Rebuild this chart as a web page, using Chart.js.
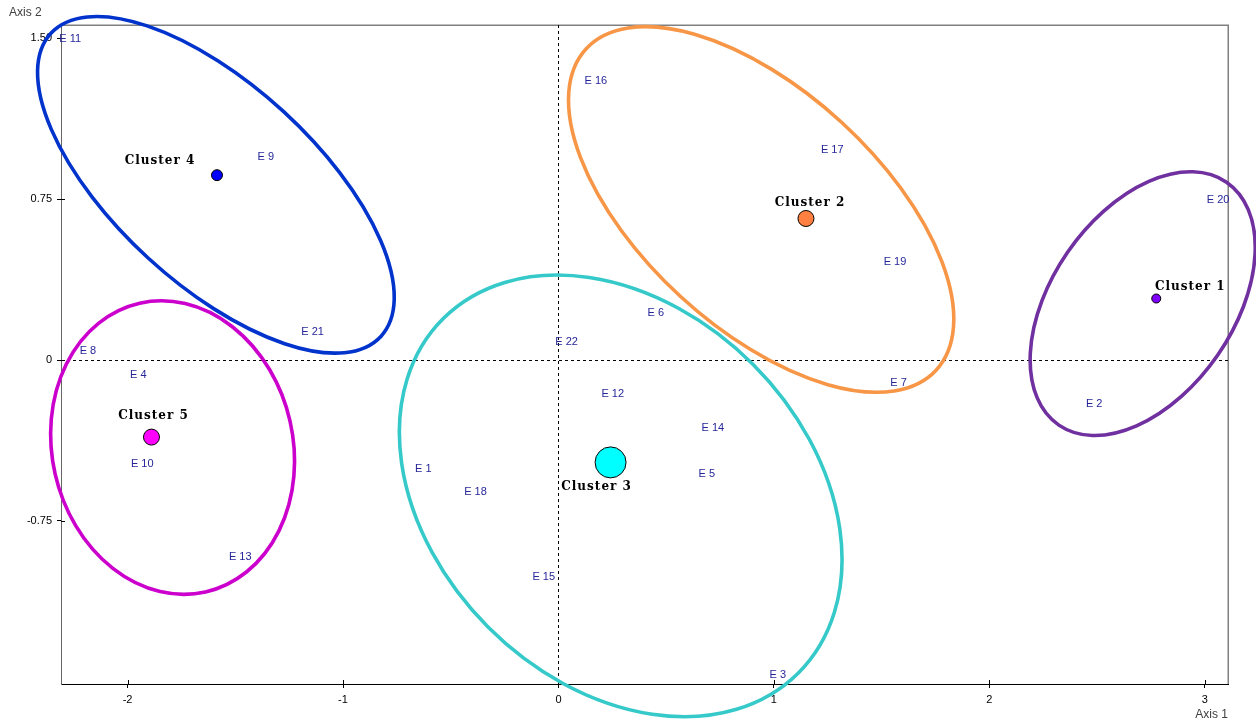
<!DOCTYPE html>
<html>
<head>
<meta charset="utf-8">
<title>Clusters – Axis 1 / Axis 2</title>
<script src="https://cdn.jsdelivr.net/npm/chart.js@4/dist/chart.umd.min.js"></script>
<style>
  html, body { margin: 0; padding: 0; background: #fff; }
  #wrap { width: 1256px; height: 721px; position: relative; }
</style>
</head>
<body>
<div id="wrap"><canvas id="map"></canvas></div>
<script>
// Observations (coordinates on Axis 1 / Axis 2)
const obsNames = ['E 1','E 2','E 3','E 4','E 5','E 6','E 7','E 8','E 9','E 10','E 11',
                  'E 12','E 13','E 14','E 15','E 16','E 17','E 18','E 19','E 20','E 21','E 22'];
const obsX = [-0.627, 2.487, 1.018, -1.950, 0.689, 0.452, 1.579, -2.184, -1.358, -1.932, -2.266,
              0.252, -1.477, 0.717, -0.068, 0.174, 1.271, -0.385, 1.562, 3.062, -1.141, 0.038];
const obsY = [-0.507, -0.205, -1.466, -0.070, -0.530, 0.220, -0.106, 0.043, 0.946, -0.484, 1.497,
              -0.157, -0.917, -0.318, -1.011, 1.303, 0.980, -0.613, 0.457, 0.745, 0.132, 0.085];

// Cluster centroids
const clusterNames = ['Cluster 1','Cluster 2','Cluster 3','Cluster 4','Cluster 5'];
const clusterX = [2.775, 1.149, 0.242, -1.585, -1.889];
const clusterY = [0.287, 0.660, -0.477, 0.862, -0.359];

// Cluster ellipses: centre, semi-axes and orientation (degrees)
const ellipseCx = [2.712, 0.941, 0.289, -1.590, -1.791];
const ellipseCy = [0.263, 0.702, -0.633, 0.817, -0.408];
const ellipseA = [0.687, 1.105, 1.167, 1.042, 0.690];
const ellipseB = [0.423, 0.552, 0.868, 0.464, 0.559];
const ellipseAngle = [55.5, -42.7, -45.2, -42.7, -77.2];

// Axis ticks
const xTickValues = [-2, -1, 0, 1, 2, 3];
const xTickLabels = ['-2', '-1', '0', '1', '2', '3'];
const yTickValues = [-0.75, 0, 0.75, 1.5];
const yTickLabels = ['-0.75', '0', '0.75', '1.50'];

// Styling
const clusterFill = ['#8000ff', '#ff8040', '#00ffff', '#0000ff', '#ff00ff'];
const clusterRadius = [4.5, 8, 15.5, 5.5, 8];
const ellipseColor = ['#7030a0', '#f79646', '#36c9c9', '#0033cc', '#cc00cc'];
const clusterLabelDx = [33, 3, -15, -58, 1];
const clusterLabelDy = [-12, -16, 24, -14, -21];
const SANS = '"Liberation Sans", Arial, sans-serif';

const mapPlugin = {
  id: 'clusterMap',
  beforeDatasetsDraw(chart) {
    const { ctx, chartArea: a, scales: { x, y } } = chart;
    ctx.save();
    // frame top / right
    ctx.strokeStyle = '#808080';
    ctx.lineWidth = 1.5;
    ctx.beginPath();
    ctx.moveTo(a.left, a.top + 0.25);
    ctx.lineTo(a.right + 0.25, a.top + 0.25);
    ctx.lineTo(a.right + 0.25, a.bottom);
    ctx.stroke();

    // dashed zero lines
    ctx.strokeStyle = '#000';
    ctx.lineWidth = 1;
    ctx.setLineDash([3, 3]);
    const x0 = Math.round(x.getPixelForValue(0)) + 0.5;
    const y0 = Math.round(y.getPixelForValue(0)) + 0.5;
    ctx.beginPath();
    ctx.moveTo(x0, a.top); ctx.lineTo(x0, a.bottom);
    ctx.moveTo(a.left, y0); ctx.lineTo(a.right, y0);
    ctx.stroke();
    ctx.setLineDash([]);

    // inner half of the cross ticks
    ctx.beginPath();
    xTickValues.forEach(v => {
      const px = Math.round(x.getPixelForValue(v)) + 0.5;
      ctx.moveTo(px, a.bottom); ctx.lineTo(px, a.bottom - 4);
    });
    yTickValues.forEach(v => {
      const py = Math.round(y.getPixelForValue(v)) + 0.5;
      ctx.moveTo(a.left, py); ctx.lineTo(a.left + 4, py);
    });
    ctx.stroke();

    // observation labels
    ctx.fillStyle = '#262699';
    ctx.font = '11px ' + SANS;
    ctx.textAlign = 'center';
    ctx.textBaseline = 'middle';
    obsNames.forEach((n, i) => {
      ctx.fillText(n, x.getPixelForValue(obsX[i]), y.getPixelForValue(obsY[i]));
    });
    ctx.restore();
  },
  afterDatasetsDraw(chart) {
    const { ctx, scales: { x, y } } = chart;
    const sx = x.getPixelForValue(1) - x.getPixelForValue(0);
    const sy = y.getPixelForValue(0) - y.getPixelForValue(1);
    ctx.save();
    // ellipses around each cluster
    ellipseCx.forEach((cx, i) => {
      ctx.save();
      ctx.translate(x.getPixelForValue(cx), y.getPixelForValue(ellipseCy[i]));
      ctx.scale(sx, -sy);
      ctx.rotate(ellipseAngle[i] * Math.PI / 180);
      ctx.beginPath();
      ctx.ellipse(0, 0, ellipseA[i], ellipseB[i], 0, 0, Math.PI * 2);
      ctx.restore();
      ctx.strokeStyle = ellipseColor[i];
      ctx.lineWidth = 3.6;
      ctx.stroke();
    });
    // cluster names
    ctx.fillStyle = '#000';
    ctx.font = 'bold 12px "DejaVu Serif", serif';
    if ('letterSpacing' in ctx) ctx.letterSpacing = '1px';
    ctx.textAlign = 'center';
    ctx.textBaseline = 'middle';
    clusterNames.forEach((n, i) => {
      ctx.fillText(n, x.getPixelForValue(clusterX[i]) + clusterLabelDx[i] + 1,
                      y.getPixelForValue(clusterY[i]) + clusterLabelDy[i]);
    });
    ctx.restore();
  },
  afterDraw(chart) {
    const { ctx, chartArea: a } = chart;
    ctx.save();
    ctx.fillStyle = '#404040';
    ctx.font = '12px ' + SANS;
    ctx.textBaseline = 'middle';
    ctx.textAlign = 'left';
    ctx.fillText('Axis 2', 9, 13);
    ctx.textAlign = 'right';
    ctx.fillText('Axis 1', a.right, 715);
    ctx.restore();
  }
};

new Chart(document.getElementById('map'), {
  type: 'scatter',
  data: {
    datasets: [{
      label: 'Clusters',
      data: clusterX.map((v, i) => ({ x: v, y: clusterY[i] })),
      pointRadius: clusterRadius,
      pointHoverRadius: clusterRadius,
      backgroundColor: clusterFill,
      borderColor: '#000',
      borderWidth: 1
    }]
  },
  options: {
    responsive: true,
    maintainAspectRatio: false,
    animation: false,
    devicePixelRatio: 1,
    layout: { padding: { left: 0, top: 25, right: 28, bottom: 0 } },
    plugins: { legend: { display: false }, tooltip: { enabled: false } },
    scales: {
      x: {
        type: 'linear',
        min: -2.309,
        max: 3.108,
        afterBuildTicks: s => { s.ticks = xTickValues.map(v => ({ value: v })); },
        afterFit: s => { s.height = 37; },
        ticks: {
          color: '#000',
          font: { family: SANS, size: 11 },
          padding: 5,
          maxRotation: 0,
          callback: (v) => xTickLabels[xTickValues.indexOf(v)]
        },
        grid: { display: true, drawOnChartArea: false, drawTicks: true, tickLength: 4, color: '#000' },
        border: { display: true, color: '#000', width: 1 }
      },
      y: {
        type: 'linear',
        min: -1.510,
        max: 1.562,
        afterBuildTicks: s => { s.ticks = yTickValues.map(v => ({ value: v })); },
        afterFit: s => { s.width = 61; },
        ticks: {
          color: '#000',
          font: { family: SANS, size: 11 },
          padding: 5,
          callback: (v) => yTickLabels[yTickValues.indexOf(v)]
        },
        grid: { display: true, drawOnChartArea: false, drawTicks: true, tickLength: 4, color: '#000' },
        border: { display: true, color: '#666', width: 1 }
      }
    }
  },
  plugins: [mapPlugin]
});
</script>
</body>
</html>
